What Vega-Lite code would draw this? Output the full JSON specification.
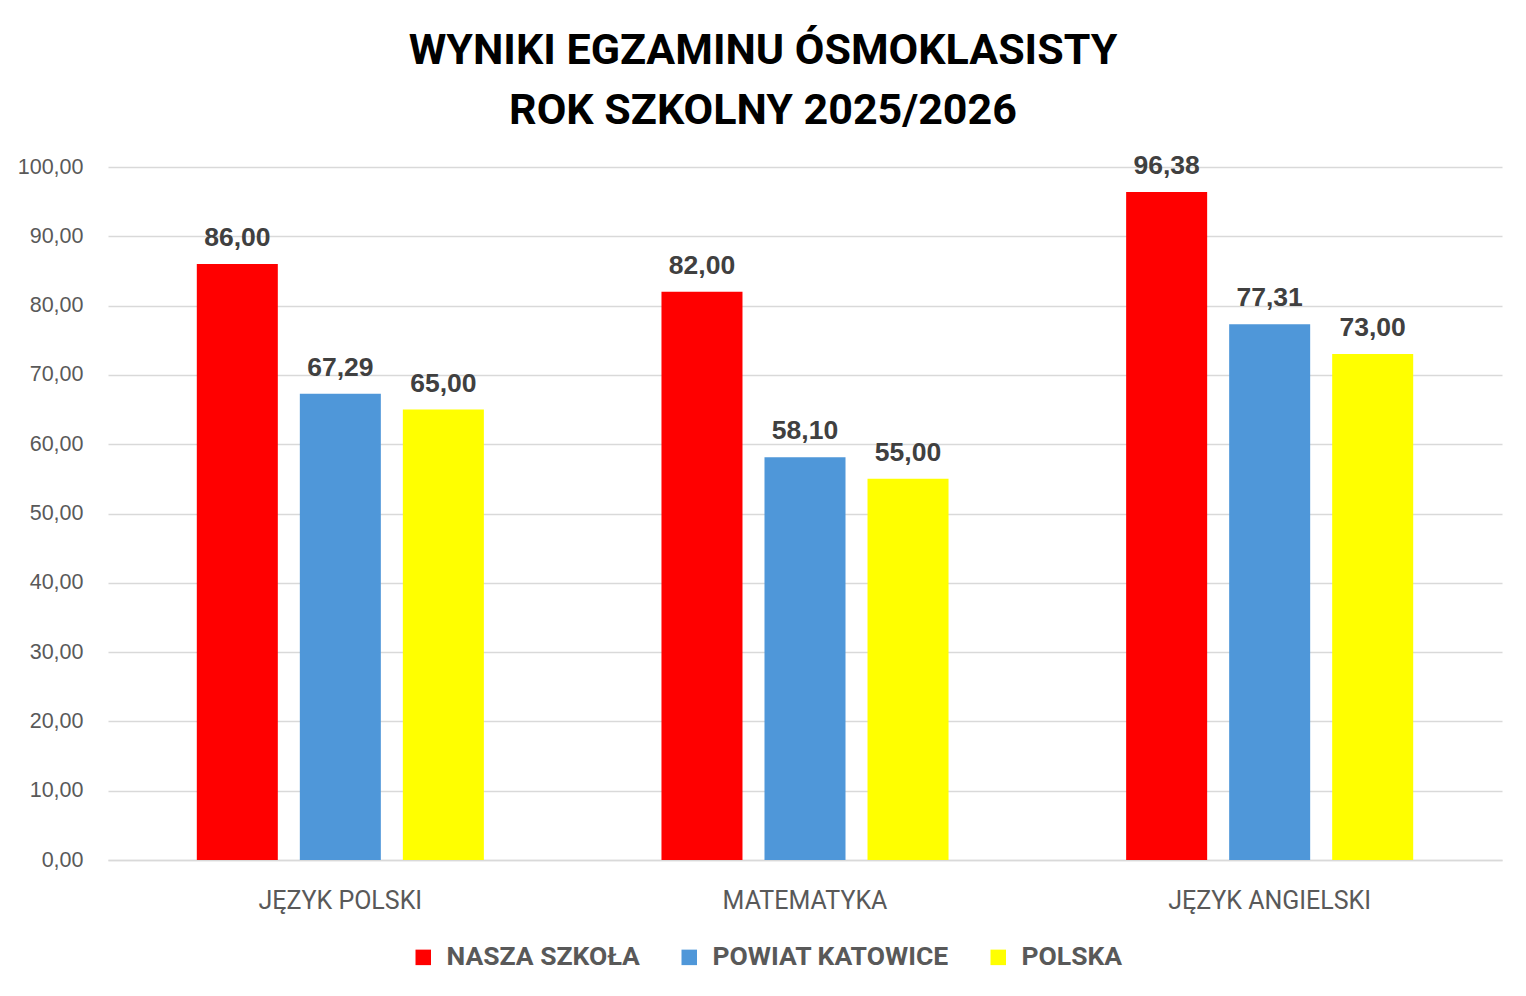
{
  "$schema": "https://vega.github.io/schema/vega-lite/v6.json",
  "autosize": {"type": "none"},
  "padding": {"left": 108, "top": 167, "right": 24, "bottom": 136},
  "width": 1394,
  "height": 693,
  "background": "white",
  "title": {
    "text": ["WYNIKI EGZAMINU ÓSMOKLASISTY", "ROK SZKOLNY 2025/2026"],
    "font": "Roboto",
    "fontSize": 43,
    "fontWeight": "bold",
    "color": "#000000",
    "lineHeight": 60,
    "anchor": "middle",
    "dx": -42,
    "offset": 20
  },
  "data": {
    "values": [
      {"przedmiot": "JĘZYK POLSKI", "seria": "NASZA SZKOŁA", "wynik": 86.00},
      {"przedmiot": "JĘZYK POLSKI", "seria": "POWIAT KATOWICE", "wynik": 67.29},
      {"przedmiot": "JĘZYK POLSKI", "seria": "POLSKA", "wynik": 65.00},
      {"przedmiot": "MATEMATYKA", "seria": "NASZA SZKOŁA", "wynik": 82.00},
      {"przedmiot": "MATEMATYKA", "seria": "POWIAT KATOWICE", "wynik": 58.10},
      {"przedmiot": "MATEMATYKA", "seria": "POLSKA", "wynik": 55.00},
      {"przedmiot": "JĘZYK ANGIELSKI", "seria": "NASZA SZKOŁA", "wynik": 96.38},
      {"przedmiot": "JĘZYK ANGIELSKI", "seria": "POWIAT KATOWICE", "wynik": 77.31},
      {"przedmiot": "JĘZYK ANGIELSKI", "seria": "POLSKA", "wynik": 73.00}
    ]
  },
  "encoding": {
    "x": {
      "field": "przedmiot",
      "type": "nominal",
      "sort": ["JĘZYK POLSKI", "MATEMATYKA", "JĘZYK ANGIELSKI"],
      "scale": {"paddingInner": 0, "paddingOuter": 0},
      "axis": {
        "title": null,
        "labelAngle": 0,
        "labelFont": "Roboto",
        "labelFontSize": 25,
        "labelColor": "#595959",
        "labelPadding": 28,
        "labelLimit": 400,
        "ticks": false,
        "domain": true,
        "domainColor": "#d9d9d9",
        "domainWidth": 1.5,
        "grid": false
      }
    },
    "xOffset": {
      "field": "seria",
      "type": "nominal",
      "sort": ["NASZA SZKOŁA", "POWIAT KATOWICE", "POLSKA"],
      "scale": {"paddingInner": 0.2136, "paddingOuter": 0.862}
    },
    "y": {
      "field": "wynik",
      "type": "quantitative",
      "scale": {"domain": [0, 100], "nice": false},
      "axis": {
        "title": null,
        "values": [0, 10, 20, 30, 40, 50, 60, 70, 80, 90, 100],
        "labelExpr": "replace(format(datum.value, '.2f'), '.', ',')",
        "labelOverlap": false,
        "labelFont": "Liberation Sans",
        "labelFontSize": 21.5,
        "labelColor": "#595959",
        "labelPadding": 25,
        "ticks": false,
        "domain": false,
        "grid": true,
        "gridColor": "#d9d9d9",
        "gridWidth": 1.5
      }
    }
  },
  "layer": [
    {
      "mark": {"type": "bar"},
      "encoding": {
        "color": {
          "field": "seria",
          "type": "nominal",
          "sort": ["NASZA SZKOŁA", "POWIAT KATOWICE", "POLSKA"],
          "scale": {
            "domain": ["NASZA SZKOŁA", "POWIAT KATOWICE", "POLSKA"],
            "range": ["#ff0000", "#4f97d9", "#ffff00"]
          },
          "legend": {
            "title": null,
            "orient": "none",
            "direction": "horizontal",
            "legendX": 302,
            "legendY": 777,
            "symbolType": "square",
            "symbolSize": 240,
            "symbolStrokeWidth": 0,
            "labelFont": "Roboto",
            "labelFontSize": 26.5,
            "labelFontWeight": "bold",
            "labelColor": "#595959",
            "labelLimit": 400,
            "labelOffset": 10,
            "columnPadding": 36
          }
        }
      }
    },
    {
      "mark": {
        "type": "text",
        "baseline": "bottom",
        "dy": -12,
        "font": "Liberation Sans",
        "fontSize": 26.5,
        "fontWeight": "bold",
        "color": "#404040"
      },
      "encoding": {
        "text": {"field": "label"}
      },
      "transform": [
        {"calculate": "replace(format(datum.wynik, '.2f'), '.', ',')", "as": "label"}
      ]
    }
  ],
  "config": {
    "view": {"stroke": null}
  }
}
